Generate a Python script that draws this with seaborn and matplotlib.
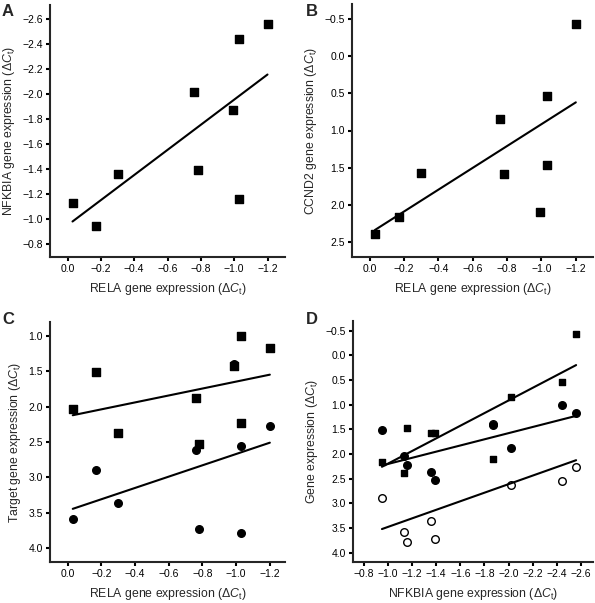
import pandas as pd
import matplotlib
matplotlib.use("Agg")
import matplotlib.pyplot as plt
import seaborn as sns

# values (delta Ct), same sample order in every list
rela = [-0.03, -0.17, -0.30, -0.76, -0.78, -0.99, -1.03, -1.03, -1.20]
nfkbia = [-1.13, -0.95, -1.36, -2.02, -1.39, -1.87, -2.44, -1.16, -2.56]
ccnd2 = [2.39, 2.16, 1.57, 0.84, 1.58, 2.09, 0.54, 1.47, -0.43]
target_sq = [2.03, 1.51, 2.37, 1.87, 2.53, 1.42, 1.00, 2.23, 1.17]
target_ci = [3.59, 2.89, 3.36, 2.62, 3.73, 1.40, 2.55, 3.79, 2.27]

df = pd.DataFrame({'rela': rela, 'nfkbia': nfkbia, 'ccnd2': ccnd2,
                   'target_sq': target_sq, 'target_ci': target_ci})

sns.set_style('ticks')
plt.rcParams['font.family'] = ['Liberation Sans', 'DejaVu Sans']
plt.rcParams['axes.unicode_minus'] = True
plt.rcParams['mathtext.fontset'] = 'custom'
plt.rcParams['mathtext.rm'] = 'Liberation Sans'
plt.rcParams['mathtext.it'] = 'Liberation Sans:italic'
plt.rcParams['axes.linewidth'] = 1.5
plt.rcParams['xtick.major.width'] = 1.5
plt.rcParams['ytick.major.width'] = 1.5
plt.rcParams['xtick.major.size'] = 3
plt.rcParams['ytick.major.size'] = 3
plt.rcParams['xtick.major.pad'] = 2
plt.rcParams['ytick.major.pad'] = 2

W, H = 595, 603
fig = plt.figure(figsize=(W / 100, H / 100), dpi=100)


def box(l, t, r, b):
    return [l / W, 1 - b / H, (r - l) / W, (b - t) / H]


dct = r'($\mathit{\Delta C}_{\mathrm{t}}$)'
tick_fs = 7.5
lab_fs = 8.8

def fit(ax, x, y, marker, face='black', z=2, s=30):
    sns.regplot(data=df, x=x, y=y, ax=ax, ci=None, marker=marker,
                scatter_kws=dict(s=s, facecolors=face, edgecolors='black',
                                 linewidths=1.0, alpha=1, zorder=z),
                line_kws=dict(color='black', lw=1.5), color='black')


def style(ax, xlabel, ylabel, xlim, ylim, xticks, yticks):
    ax.set_xlim(*xlim)
    ax.set_ylim(*ylim)
    ax.set_xticks(xticks)
    ax.set_yticks(yticks)
    ax.tick_params(labelsize=tick_fs, colors='black')
    ax.set_xlabel(xlabel, fontsize=lab_fs, labelpad=5)
    ax.set_ylabel(ylabel, fontsize=lab_fs, labelpad=4)
    sns.despine(ax=ax)


xt_rela = [0.0, -0.2, -0.4, -0.6, -0.8, -1.0, -1.2]

# A
axA = fig.add_axes(box(50, 5, 285, 257))
fit(axA, 'rela', 'nfkbia', 's')
style(axA, 'RELA gene expression ' + dct, 'NFKBIA gene expression ' + dct,
      (0.105, -1.305), (-0.70, -2.71), xt_rela,
      [-0.8, -1.0, -1.2, -1.4, -1.6, -1.8, -2.0, -2.2, -2.4, -2.6])

# B
axB = fig.add_axes(box(352, 4, 593, 257))
fit(axB, 'rela', 'ccnd2', 's')
style(axB, 'RELA gene expression ' + dct, 'CCND2 gene expression ' + dct,
      (0.103, -1.3), (2.70, -0.70), xt_rela,
      [-0.5, 0.0, 0.5, 1.0, 1.5, 2.0, 2.5])

# C
axC = fig.add_axes(box(50, 322, 285, 562))
fit(axC, 'rela', 'target_ci', 'o', z=2)
fit(axC, 'rela', 'target_sq', 's', z=3)
style(axC, 'RELA gene expression ' + dct, 'Target gene expression ' + dct,
      (0.105, -1.29), (4.20, 0.80), xt_rela,
      [1.0, 1.5, 2.0, 2.5, 3.0, 3.5, 4.0])

# D
axD = fig.add_axes(box(353, 321, 593, 562))
fit(axD, 'nfkbia', 'ccnd2', 's', z=2, s=20)
fit(axD, 'nfkbia', 'target_ci', 'o', face='white', z=2)
fit(axD, 'nfkbia', 'target_sq', 'o', z=3)
style(axD, 'NFKBIA gene expression ' + dct, 'Gene expression ' + dct,
      (-0.71, -2.70), (4.19, -0.70),
      [-0.8, -1.0, -1.2, -1.4, -1.6, -1.8, -2.0, -2.2, -2.4, -2.6],
      [-0.5, 0.0, 0.5, 1.0, 1.5, 2.0, 2.5, 3.0, 3.5, 4.0])

for letter, x, y in [('A', 2, 4), ('B', 306, 4), ('C', 2, 312), ('D', 306, 312)]:
    fig.text(x / W, 1 - y / H, letter, fontsize=12, fontweight='bold',
             ha='left', va='top')

fig.savefig('out.png', dpi=100)
